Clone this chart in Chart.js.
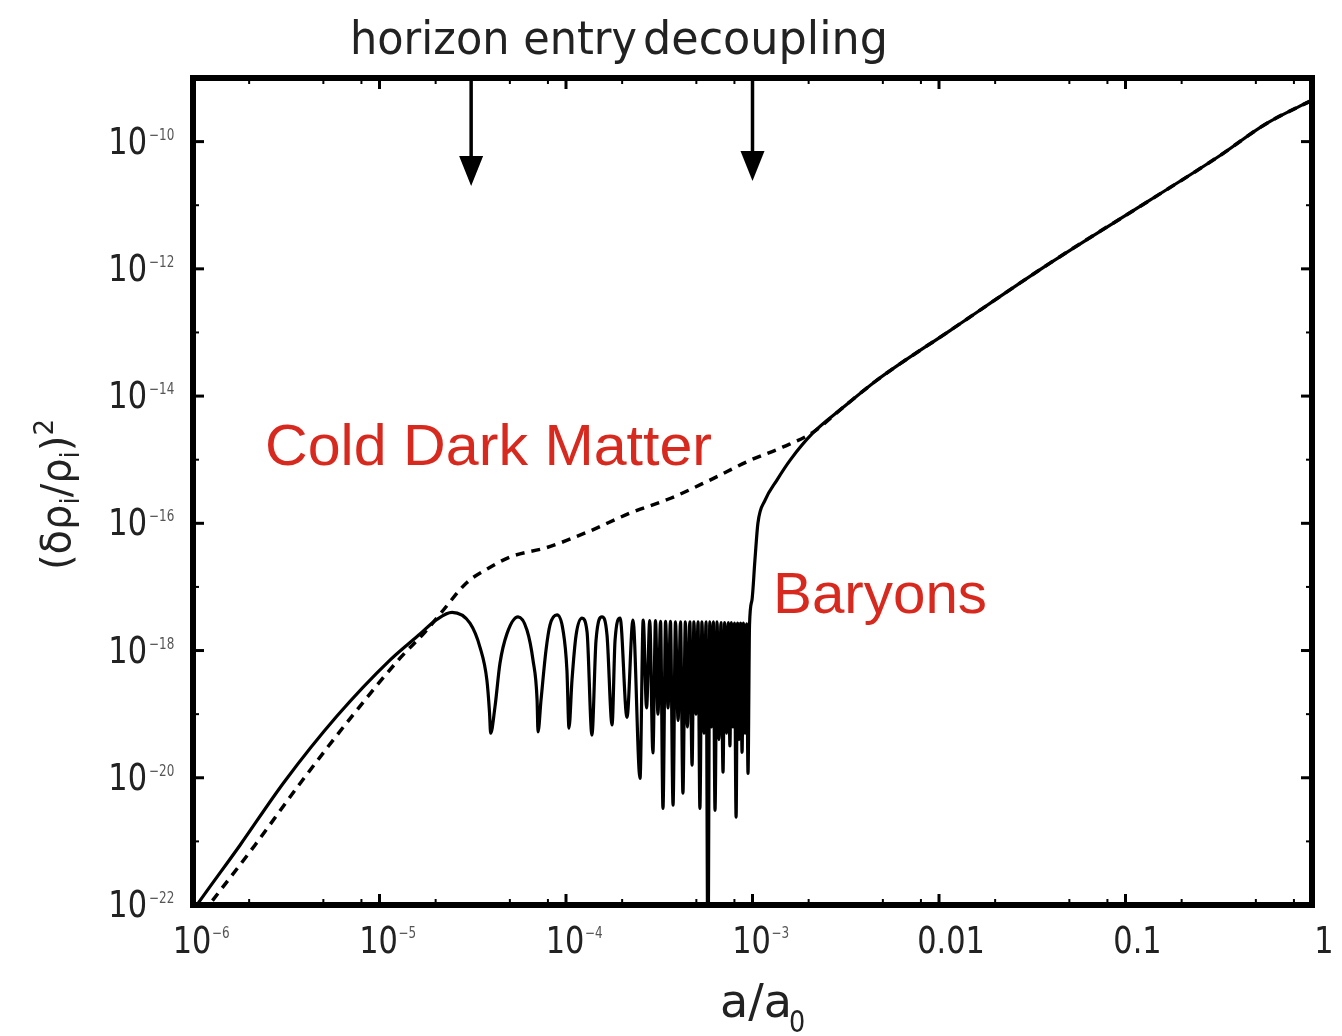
<!DOCTYPE html>
<html>
<head>
<meta charset="utf-8">
<script src="https://cdn.jsdelivr.net/npm/chart.js@4.4.1/dist/chart.umd.min.js"></script>
<style>
  html, body { margin: 0; padding: 0; background: #fff; }
  canvas { display: block; }
</style>
</head>
<body>
<canvas id="chart" width="1342" height="1036"></canvas>
<script>
// log10(a/a0) and log10((δρ/ρ)^2)
const cdmLogA = [-6.00, -5.914, -5.668, -5.421, -5.147, -4.890, -4.756, -4.676, -4.531, -4.418,
  -4.300, -4.102, -3.887, -3.657, -3.442, -3.228, -3.013, -2.836, -2.676, -2.515, -2.333,
  -1.941, -1.405, -0.869, -0.509, -0.241, 0.0];
const cdmLogPower = [-22.33, -22.0, -21.06, -20.07, -19.03, -18.12, -17.71, -17.43, -16.93, -16.71,
  -16.53, -16.38, -16.14, -15.84, -15.61, -15.32, -15.01, -14.80, -14.57, -14.18, -13.75,
  -12.97, -11.91, -10.92, -10.25, -9.71, -9.35];

const baryonLogA = [-6.00, -5.979, -5.748, -5.512, -5.228, -4.944, -4.783, -4.692, -4.611,
  -4.515, -4.461, -4.424, -4.410, -4.404, -4.381, -4.354, -4.316, -4.257,
  -4.209, -4.177, -4.155, -4.150, -4.134, -4.107, -4.086, -4.048,
  -4.016, -3.995, -3.984, -3.968, -3.946, -3.914,
  -3.887, -3.861, -3.839, -3.807, -3.780, -3.753, -3.737, -3.710, -3.673, -3.641,
  -3.603, -3.586, -3.568, -3.551, -3.534, -3.520, -3.507, -3.493, -3.480, -3.466,
  -3.453, -3.440, -3.426, -3.413, -3.399, -3.386, -3.373, -3.360, -3.349, -3.336,
  -3.324, -3.314, -3.303, -3.292, -3.282, -3.271, -3.260, -3.249, -3.239, -3.229,
  -3.220, -3.210, -3.201, -3.190, -3.180, -3.169, -3.158, -3.149, -3.139, -3.130,
  -3.121, -3.113, -3.105, -3.097, -3.088, -3.080, -3.072, -3.064, -3.056, -3.048,
  -3.040, -3.032, -3.024, -3.016,
  -3.003, -2.987, -2.971, -2.933, -2.869, -2.799, -2.676, -2.515, -2.333, -1.941,
  -1.405, -0.869, -0.509, -0.241, 0.0];
const baryonLogPower = [-22.09, -22.0, -21.06, -20.07, -19.03, -18.15, -17.74, -17.51, -17.40,
  -17.57, -17.95, -18.47, -18.98, -19.30, -18.89, -18.20, -17.73, -17.47,
  -17.68, -18.15, -18.78, -19.28, -18.78, -17.99, -17.60, -17.44,
  -17.68, -18.31, -19.22, -18.47, -17.76, -17.49,
  -17.71, -19.33, -17.84, -17.47, -17.76, -19.17, -17.84, -17.49, -19.05, -17.52,
  -20.01, -17.52, -18.90, -17.53, -19.61, -17.53, -19.00, -17.54, -20.48, -17.54,
  -18.90, -17.54, -20.43, -17.55, -19.10, -17.55, -20.24, -17.55, -19.20, -17.55,
  -19.80, -17.55, -19.00, -17.55, -20.48, -17.55, -19.30, -17.55, -23.00, -17.55,
  -19.20, -17.55, -20.51, -17.55, -19.40, -17.56, -19.91, -17.56, -19.30, -17.56,
  -19.50, -17.56, -19.20, -17.57, -20.62, -17.57, -19.40, -17.57, -19.60, -17.57,
  -19.30, -17.58, -19.93, -17.60,
  -17.21, -16.58, -16.00, -15.64, -15.32, -15.01, -14.58, -14.18, -13.75, -12.97,
  -11.91, -10.92, -10.25, -9.71, -9.35];

const xTickValues = [1e-6, 1e-5, 1e-4, 1e-3, 1e-2, 1e-1, 1];
const xTickBase = ['10', '10', '10', '10', '0.01', '0.1', '1'];
const xTickExp = ['\u22126', '\u22125', '\u22124', '\u22123', '', '', ''];
const yTickValues = [1e-22, 1e-20, 1e-18, 1e-16, 1e-14, 1e-12, 1e-10];
const yTickExp = ['\u221222', '\u221220', '\u221218', '\u221216', '\u221214', '\u221212', '\u221210'];

const arrowA = [3.1e-5, 1.0e-3];
const arrowTip = [2.0e-11, 2.4e-11];

const toPoints = (la, lp) => la.map((v, i) => ({ x: Math.pow(10, v), y: Math.pow(10, lp[i]) }));

const FONT = '"DejaVu Sans", sans-serif';
const RED = '#d8291e';

function scaledText(ctx, text, x, y, font, sx, align) {
  ctx.save();
  ctx.font = font;
  ctx.textAlign = align || 'left';
  ctx.textBaseline = 'alphabetic';
  ctx.translate(x, y);
  ctx.scale(sx, 1);
  ctx.fillText(text, 0, 0);
  ctx.restore();
}

function fitText(ctx, text, x, y, font, width) {
  ctx.save();
  ctx.font = font;
  const w = ctx.measureText(text).width;
  ctx.restore();
  scaledText(ctx, text, x, y, font, width / w, 'left');
}

function seg(ctx, x1, y1, x2, y2) {
  ctx.beginPath();
  ctx.moveTo(x1, y1);
  ctx.lineTo(x2, y2);
  ctx.stroke();
}

const framePlugin = {
  id: 'frame',
  afterDatasetsDraw(chart) {
    const { ctx, chartArea: ca, scales: { x, y } } = chart;
    ctx.save();
    ctx.strokeStyle = '#000';
    ctx.lineCap = 'butt';

    // major ticks, pointing inwards on all four sides
    ctx.lineWidth = 3;
    xTickValues.forEach(v => {
      const px = x.getPixelForValue(v);
      seg(ctx, px, ca.bottom, px, ca.bottom - 11);
      seg(ctx, px, ca.top, px, ca.top + 11);
    });
    yTickValues.forEach(v => {
      const py = y.getPixelForValue(v);
      seg(ctx, ca.left, py, ca.left + 11, py);
      seg(ctx, ca.right, py, ca.right - 11, py);
    });

    // minor ticks
    ctx.lineWidth = 2;
    xTickValues.slice(0, -1).forEach(v => {
      [2, 5, 8].forEach(m => {
        const px = x.getPixelForValue(v * m);
        seg(ctx, px, ca.bottom, px, ca.bottom - 6);
        seg(ctx, px, ca.top, px, ca.top + 6);
      });
    });
    yTickValues.forEach(v => {
      const py = y.getPixelForValue(v * 10);
      seg(ctx, ca.left, py, ca.left + 6, py);
      seg(ctx, ca.right, py, ca.right - 6, py);
    });

    ctx.lineWidth = 6;
    ctx.strokeRect(ca.left, ca.top, ca.right - ca.left, ca.bottom - ca.top);
    ctx.restore();
  },
  afterDraw(chart) {
    const { ctx, chartArea: ca, scales: { x, y } } = chart;
    ctx.save();
    ctx.fillStyle = '#222';

    // y tick labels: 10^-n
    yTickValues.forEach((v, i) => {
      const py = y.getPixelForValue(v);
      ctx.fillStyle = '#222';
      scaledText(ctx, '10', ca.left - 46, py + 12, '38px ' + FONT, 0.8, 'right');
      ctx.fillStyle = '#555';
      scaledText(ctx, yTickExp[i], ca.left - 44, py - 2, '15px ' + FONT, 0.8, 'left');
    });

    // x tick labels
    xTickValues.forEach((v, i) => {
      const px = x.getPixelForValue(v);
      ctx.fillStyle = '#222';
      if (xTickExp[i]) {
        scaledText(ctx, xTickBase[i], px - 1, 953, '38px ' + FONT, 0.8, 'center');
        ctx.fillStyle = '#555';
        scaledText(ctx, xTickExp[i], px + 19, 938, '15px ' + FONT, 0.8, 'left');
      } else {
        scaledText(ctx, xTickBase[i], px + 12, 953, '38px ' + FONT, 0.8, 'center');
      }
    });

    // x axis title a/a0
    ctx.fillStyle = '#222';
    fitText(ctx, 'a/a', 720, 1017, '46px ' + FONT, 72);
    scaledText(ctx, '0', 789, 1032, '30px ' + FONT, 0.85, 'left');

    // y axis title (δρi/ρi)^2, rotated
    ctx.save();
    ctx.translate(70, 570);
    ctx.rotate(-Math.PI / 2);
    const parts = [
      ['(δρ', 40, 0], ['i', 26, 9], ['/ρ', 40, 0], ['i', 26, 9], [')', 40, 0], ['2', 26, -17]
    ];
    let cx = 0;
    parts.forEach(([t, s, dy]) => {
      ctx.font = s + 'px ' + FONT;
      ctx.textAlign = 'left';
      ctx.fillText(t, cx, dy);
      cx += ctx.measureText(t).width;
    });
    ctx.restore();

    // arrows at horizon entry and decoupling
    ctx.fillStyle = '#000';
    ctx.strokeStyle = '#000';
    ctx.lineWidth = 3.5;
    arrowA.forEach((a, i) => {
      const px = x.getPixelForValue(a);
      const tip = y.getPixelForValue(arrowTip[i]);
      seg(ctx, px, ca.top, px, tip - 20);
      ctx.beginPath();
      ctx.moveTo(px, tip);
      ctx.lineTo(px - 12, tip - 30);
      ctx.lineTo(px + 12, tip - 30);
      ctx.closePath();
      ctx.fill();
    });

    // labels above the frame
    ctx.fillStyle = '#222';
    fitText(ctx, 'horizon entry', 350, 54, '46px ' + FONT, 287);
    fitText(ctx, 'decoupling', 643, 54, '46px ' + FONT, 245);

    // red series labels
    ctx.fillStyle = RED;
    fitText(ctx, 'Cold Dark Matter', 265, 465, '58px "Liberation Sans", Arial, sans-serif', 447);
    fitText(ctx, 'Baryons', 773, 613, '58px "Liberation Sans", Arial, sans-serif', 214);
    ctx.restore();
  }
};

new Chart(document.getElementById('chart'), {
  type: 'line',
  data: {
    datasets: [
      {
        label: 'Cold Dark Matter',
        data: toPoints(cdmLogA, cdmLogPower),
        borderColor: '#000',
        borderWidth: 3.5,
        borderDash: [9, 7],
        pointRadius: 0,
        cubicInterpolationMode: 'monotone'
      },
      {
        label: 'Baryons',
        data: toPoints(baryonLogA, baryonLogPower),
        borderColor: '#000',
        borderWidth: 3.2,
        pointRadius: 0,
        cubicInterpolationMode: 'monotone'
      }
    ]
  },
  options: {
    responsive: false,
    animation: false,
    devicePixelRatio: 1,
    layout: { padding: { left: 193, top: 78, right: 30, bottom: 131 } },
    scales: {
      x: {
        type: 'logarithmic', min: 1e-6, max: 1,
        ticks: { display: false }, grid: { display: false, drawTicks: false }, border: { display: false }
      },
      y: {
        type: 'logarithmic', min: 1e-22, max: 1e-9,
        ticks: { display: false }, grid: { display: false, drawTicks: false }, border: { display: false }
      }
    },
    plugins: { legend: { display: false }, tooltip: { enabled: false } }
  },
  plugins: [framePlugin]
});
</script>
</body>
</html>
